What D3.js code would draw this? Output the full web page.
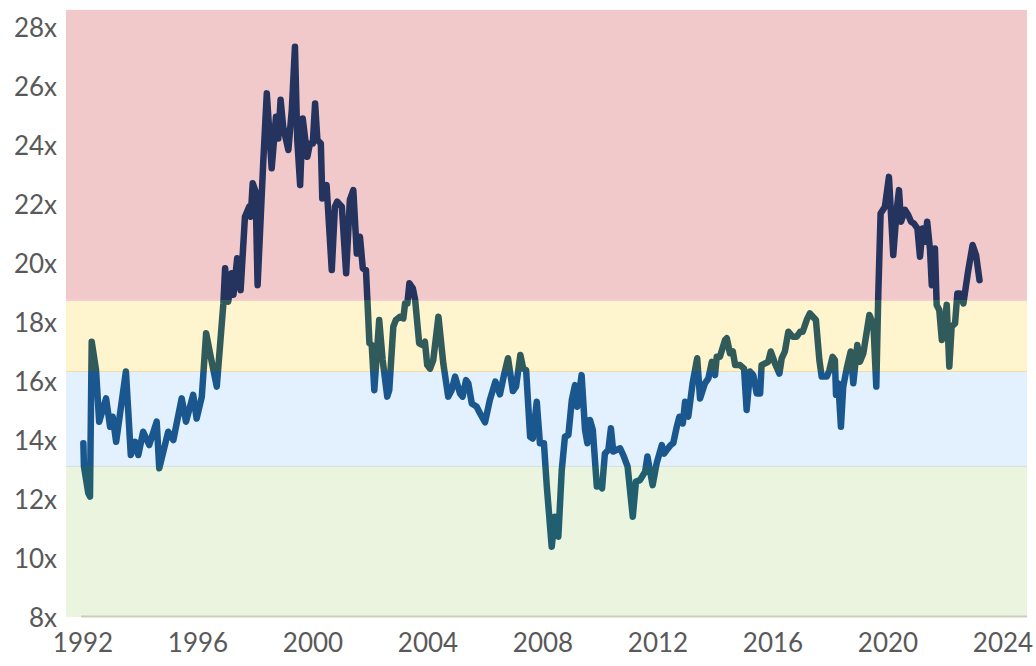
<!DOCTYPE html>
<html>
<head>
<meta charset="utf-8">
<title>Forward P/E</title>
<style>
  body { margin: 0; background: #fff; }
  text { font-family: Lato, "Open Sans", sans-serif; fill: #595959; }
</style>
</head>
<body>
<div id="chart"></div>
<script src="https://d3js.org/d3.v7.min.js"></script>
<script>
// values (decimal year, multiple)
var years = [1992.03,1992.05,1992.20,1992.26,1992.32,1992.47,1992.58,1992.82,1992.96,1993.05,
  1993.17,1993.51,1993.68,1993.83,1993.94,1994.11,1994.32,1994.58,1994.67,1994.98,
  1995.16,1995.45,1995.60,1995.85,1995.97,1996.15,1996.30,1996.46,1996.67,1996.90,
  1996.96,1997.07,1997.19,1997.25,1997.38,1997.50,1997.65,1997.80,1997.85,1997.92,
  1998.02,1998.09,1998.29,1998.41,1998.58,1998.73,1998.81,1998.89,1998.98,1999.16,
  1999.28,1999.39,1999.47,1999.57,1999.66,1999.82,1999.91,2000.01,2000.09,2000.17,
  2000.29,2000.34,2000.49,2000.67,2000.78,2000.86,2001.02,2001.17,2001.30,2001.42,
  2001.54,2001.65,2001.75,2001.86,2001.98,2002.06,2002.15,2002.32,2002.44,2002.60,
  2002.67,2002.81,2002.90,2003.04,2003.16,2003.22,2003.30,2003.37,2003.49,2003.57,
  2003.71,2003.83,2003.91,2003.99,2004.09,2004.20,2004.38,2004.55,2004.72,2004.84,
  2004.96,2005.13,2005.22,2005.34,2005.42,2005.54,2005.71,2005.83,2006.00,2006.17,
  2006.36,2006.52,2006.66,2006.80,2006.97,2007.08,2007.23,2007.33,2007.43,2007.57,
  2007.66,2007.80,2007.91,2008.05,2008.15,2008.32,2008.43,2008.55,2008.67,2008.78,
  2008.90,2009.02,2009.13,2009.21,2009.36,2009.48,2009.56,2009.65,2009.75,2009.89,
  2010.00,2010.07,2010.17,2010.29,2010.38,2010.46,2010.70,2010.83,2010.96,2011.14,
  2011.25,2011.39,2011.57,2011.65,2011.83,2011.97,2012.15,2012.23,2012.32,2012.46,
  2012.55,2012.67,2012.76,2012.88,2012.96,2013.07,2013.22,2013.38,2013.48,2013.65,
  2013.77,2013.89,2014.00,2014.06,2014.17,2014.35,2014.41,2014.52,2014.62,2014.70,
  2014.87,2015.01,2015.10,2015.22,2015.33,2015.45,2015.57,2015.62,2015.85,2015.94,
  2016.09,2016.24,2016.32,2016.43,2016.55,2016.70,2016.84,2016.96,2017.05,2017.19,
  2017.30,2017.51,2017.63,2017.71,2017.89,2017.98,2018.09,2018.17,2018.21,2018.29,
  2018.38,2018.46,2018.58,2018.72,2018.81,2018.95,2019.04,2019.16,2019.37,2019.51,
  2019.61,2019.68,2019.76,2019.91,2020.05,2020.20,2020.32,2020.40,2020.47,2020.61,
  2020.72,2020.82,2020.92,2021.04,2021.13,2021.22,2021.30,2021.38,2021.48,2021.54,
  2021.65,2021.71,2021.80,2021.89,2021.97,2022.06,2022.15,2022.23,2022.35,2022.43,
  2022.52,2022.64,2022.81,2022.96,2023.08,2023.20];

var pe = [13.89,13.10,12.20,12.08,17.33,16.37,14.62,15.41,14.45,14.79,
  13.94,16.32,13.49,13.94,13.49,14.28,13.83,14.62,13.04,14.28,
  14.00,15.41,14.62,15.53,14.73,15.47,17.62,16.82,15.81,18.63,
  19.82,18.69,19.65,18.92,20.16,19.08,21.57,21.91,21.57,22.70,
  22.42,19.25,23.49,25.75,23.21,24.96,24.22,25.53,24.62,23.83,
  25.19,27.33,24.17,22.64,24.90,23.60,24.05,24.05,25.41,24.17,
  24.05,22.19,22.64,19.76,21.91,22.08,21.91,19.65,22.14,22.47,
  20.32,20.89,19.82,19.76,17.28,17.22,15.69,18.07,16.71,15.47,
  15.69,17.84,18.07,18.18,18.12,18.63,18.63,19.31,19.14,18.75,
  17.28,17.22,17.33,16.54,16.42,16.71,18.18,16.59,15.47,15.69,
  16.15,15.58,15.47,16.03,15.92,15.24,15.13,14.90,14.60,15.36,
  15.98,15.55,16.20,16.77,15.66,15.81,16.88,16.42,16.37,14.11,
  14.05,15.30,13.89,13.89,12.42,10.38,11.40,10.72,12.98,14.11,
  14.17,15.36,15.86,15.13,16.20,14.34,13.89,14.68,14.34,12.42,
  12.53,12.36,13.54,13.66,14.40,13.61,13.72,13.44,13.10,11.40,
  12.59,12.64,12.93,13.44,12.47,13.21,13.83,13.54,13.66,13.83,
  13.90,14.45,14.79,14.56,15.30,14.79,15.92,16.77,15.41,15.92,
  16.09,16.65,16.20,16.82,16.82,17.39,17.45,16.94,17.00,16.54,
  16.54,16.42,15.02,16.32,16.20,15.58,15.58,16.54,16.65,17.00,
  16.59,16.25,16.77,17.00,17.67,17.50,17.50,17.67,17.67,18.07,
  18.29,18.07,16.71,16.15,16.15,16.37,16.82,16.71,15.53,15.92,
  14.45,15.81,16.42,17.00,15.92,17.22,16.65,16.94,18.24,17.90,
  15.81,18.97,21.68,21.91,22.92,20.27,21.80,22.47,21.40,21.80,
  21.63,21.40,21.34,21.17,20.21,21.17,20.72,21.40,20.44,19.25,
  20.49,18.58,18.41,17.39,17.84,18.58,16.49,17.84,17.95,18.97,
  18.97,18.63,19.76,20.61,20.27,19.42];

// valuation zones (low, high multiple)
var zoneNames = ["cheap", "fair", "rich", "expensive"];
var zoneLows  = [8, 13.12, 16.34, 18.75];
var zoneHighs = [13.12, 16.34, 18.75, 28.58];
var zoneFill  = ["#ebf4de", "#e3f0fd", "#fef4ce", "#f2c9ca"];
var zoneEdge  = ["#d3e3c6", "#d2e2d6", "#f7d9a4", "#f2c9ca"];
var zoneLine  = ["#215f70", "#1a578f", "#315a5a", "#25335f"];

var xTicks = [1992, 1996, 2000, 2004, 2008, 2012, 2016, 2020, 2024];
var yTicks = [8, 10, 12, 14, 16, 18, 20, 22, 24, 26, 28];

var width = 1036, height = 666;
var left = 66, right = 1027, top = 10, bottom = 617;

var x = d3.scaleLinear().domain([1991.426, 2024.852]).range([left, right]);
var y = d3.scaleLinear().domain([8, 28]).range([bottom, 27]);

var svg = d3.select('#chart').append('svg')
  .attr('width', width)
  .attr('height', height);

var defs = svg.append('defs');
zoneNames.forEach(function(n, i) {
  defs.append('clipPath').attr('id', 'clip-' + n)
    .append('rect')
    .attr('x', left).attr('width', right - left)
    .attr('y', y(zoneHighs[i]))
    .attr('height', y(zoneLows[i]) - y(zoneHighs[i]));
});

// bands
svg.append('g').selectAll('rect')
  .data(zoneNames)
  .enter().append('rect')
  .attr('x', left)
  .attr('width', right - left)
  .attr('y', function(d, i) { return y(zoneHighs[i]); })
  .attr('height', function(d, i) { return y(zoneLows[i]) - y(zoneHighs[i]); })
  .attr('fill', function(d, i) { return zoneFill[i]; });

svg.append('g').selectAll('line')
  .data(zoneNames.slice(0, 3))
  .enter().append('line')
  .attr('x1', left).attr('x2', right)
  .attr('y1', function(d, i) { return y(zoneHighs[i]) + 0.5; })
  .attr('y2', function(d, i) { return y(zoneHighs[i]) + 0.5; })
  .attr('stroke', function(d, i) { return zoneEdge[i + 1]; })
  .attr('stroke-width', 1);

// baseline
svg.append('line')
  .attr('x1', x(1992) - 1.5).attr('x2', right)
  .attr('y1', y(8) - 0.5).attr('y2', y(8) - 0.5)
  .attr('stroke', '#c8cfc0')
  .attr('stroke-width', 2);

var data = years.map(function(t, i) { return [t, pe[i]]; });
var line = d3.line()
  .x(function(d) { return x(d[0]); })
  .y(function(d) { return y(d[1]); });

zoneNames.forEach(function(n, i) {
  svg.append('path')
    .datum(data)
    .attr('clip-path', 'url(#clip-' + n + ')')
    .attr('d', line)
    .attr('fill', 'none')
    .attr('stroke', zoneLine[i])
    .attr('stroke-width', 6.5)
    .attr('stroke-linejoin', 'round')
    .attr('stroke-linecap', 'round');
});

// axes
var yAxis = svg.append('g')
  .attr('transform', 'translate(' + 57 + ',1)')
  .call(d3.axisLeft(y).tickValues(yTicks).tickSize(0).tickPadding(0)
    .tickFormat(function(d) { return d + 'x'; }));
yAxis.select('.domain').remove();
yAxis.selectAll('text')
  .style('font-size', '26px')
  .style('font-family', 'Lato, sans-serif')
  .attr('fill', '#595959');

var xAxis = svg.append('g')
  .attr('transform', 'translate(0,' + 634 + ')')
  .call(d3.axisBottom(x).tickValues(xTicks).tickSize(0).tickPadding(0)
    .tickFormat(d3.format('d')));
xAxis.select('.domain').remove();
xAxis.selectAll('text')
  .style('font-size', '26px')
  .style('font-family', 'Lato, sans-serif')
  .attr('fill', '#595959');
</script>
</body>
</html>
